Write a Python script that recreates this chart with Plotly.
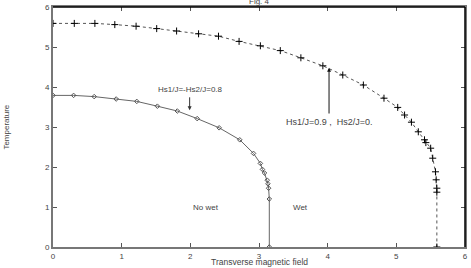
import plotly.graph_objects as go

# Upper curve: Hs1/J=0.9, Hs2/J=0
upper_x = [0, 0.31, 0.61, 0.90, 1.21, 1.51, 1.80, 2.12, 2.41, 2.71, 3.02, 3.31, 3.61, 3.93,
           4.22, 4.52, 4.82, 5.02, 5.12, 5.22, 5.32, 5.41, 5.43, 5.50, 5.53, 5.57, 5.58,
           5.59, 5.59, 5.59]
upper_y = [5.59, 5.59, 5.59, 5.56, 5.52, 5.46, 5.40, 5.33, 5.27, 5.14, 5.03, 4.91, 4.73, 4.53,
           4.30, 4.05, 3.72, 3.49, 3.30, 3.12, 2.88, 2.68, 2.61, 2.47, 2.22, 1.88, 1.68,
           1.47, 1.37, 0]

# Lower curve: Hs1/J=-Hs2/J=0.8
lower_x = [0, 0.30, 0.60, 0.92, 1.22, 1.52, 1.81, 2.10, 2.42, 2.72, 2.92, 3.02, 3.05, 3.08,
           3.12, 3.13, 3.14, 3.15, 3.15]
lower_y = [3.79, 3.79, 3.76, 3.70, 3.64, 3.52, 3.40, 3.21, 2.98, 2.68, 2.34, 2.09, 1.94, 1.85,
           1.67, 1.58, 1.47, 1.20, 0]

x_ticks = [0, 1, 2, 3, 4, 5, 6]
y_ticks = [0, 1, 2, 3, 4, 5, 6]

FONT = "Liberation Sans, Arial, sans-serif"
TXT = "#444444"

fig = go.Figure()
fig.add_trace(go.Scatter(
    x=upper_x, y=upper_y, mode="lines+markers",
    line=dict(color="#555555", width=1, dash="dot"),
    marker=dict(symbol="cross-thin", size=5, line=dict(color="black", width=1), color="black"),
    showlegend=False))
fig.add_trace(go.Scatter(
    x=lower_x, y=lower_y, mode="lines+markers",
    line=dict(color="#666666", width=1),
    marker=dict(symbol="diamond-open", size=3.5, line=dict(color="#555555", width=1), color="#555555"),
    showlegend=False))

annos = [
    dict(x=2.0, y=3.95, text="Hs1/J=-Hs2/J=0.8", showarrow=False),
    dict(x=4.03, y=3.12, text="Hs1/J=0.9 ,  Hs2/J=0.", showarrow=False,
         font=dict(family=FONT, size=9, color=TXT)),
    dict(x=2.23, y=0.98, text="No wet", showarrow=False),
    dict(x=3.61, y=0.98, text="Wet", showarrow=False),
    dict(x=1.99, y=3.42, ax=1.99, ay=3.78, axref="x", ayref="y", text="", showarrow=True,
         arrowhead=2, arrowsize=0.8, arrowwidth=1, arrowcolor="#333333"),
    dict(x=4.02, y=4.48, ax=4.02, ay=3.30, axref="x", ayref="y", text="", showarrow=True,
         arrowhead=2, arrowsize=0.8, arrowwidth=1, arrowcolor="#111111"),
    dict(x=0.5, y=1.025, xref="paper", yref="paper", text="Fig. 4", showarrow=False,
         yanchor="middle"),
    dict(x=0.5, y=-0.064, xref="paper", yref="paper", text="Transverse magnetic field",
         showarrow=False, yanchor="middle", font=dict(family=FONT, size=8.5, color=TXT)),
    dict(x=-0.115, y=0.5, xref="paper", yref="paper", text="Temperature", textangle=-90,
         showarrow=False, xanchor="center", yanchor="middle",
         font=dict(family=FONT, size=8, color=TXT)),
]
for a in annos:
    a.setdefault("font", dict(family=FONT, size=8, color=TXT))
    fig.add_annotation(**a)

# top and right frame lines (black)
fig.add_shape(type="line", xref="paper", yref="paper", x0=0, x1=1, y0=1, y1=1,
              line=dict(color="black", width=1.5))
fig.add_shape(type="line", xref="paper", yref="paper", x0=1, x1=1, y0=0, y1=1,
              line=dict(color="black", width=1.5))

axis_common = dict(
    showgrid=False, zeroline=False, showline=True, linecolor="#777777", linewidth=2,
    ticks="inside", ticklen=4, tickcolor="#555555", tickwidth=1, mirror="ticks",
    tickfont=dict(family=FONT, size=8, color=TXT), automargin=False,
)
fig.update_xaxes(range=[0, 6], tickvals=x_ticks, ticktext=[str(v) for v in x_ticks],
                 ticklabelstandoff=0, **axis_common)
fig.update_yaxes(range=[0, 6], tickvals=y_ticks, ticktext=[str(v) for v in y_ticks],
                 ticklabelstandoff=0, **axis_common)

fig.update_layout(
    width=471, height=268,
    margin=dict(l=53, r=6, t=7, b=21),
    paper_bgcolor="white", plot_bgcolor="white",
)
fig.write_html("out.html", config={"displayModeBar": False},
               post_script="document.body.style.margin='0';")
